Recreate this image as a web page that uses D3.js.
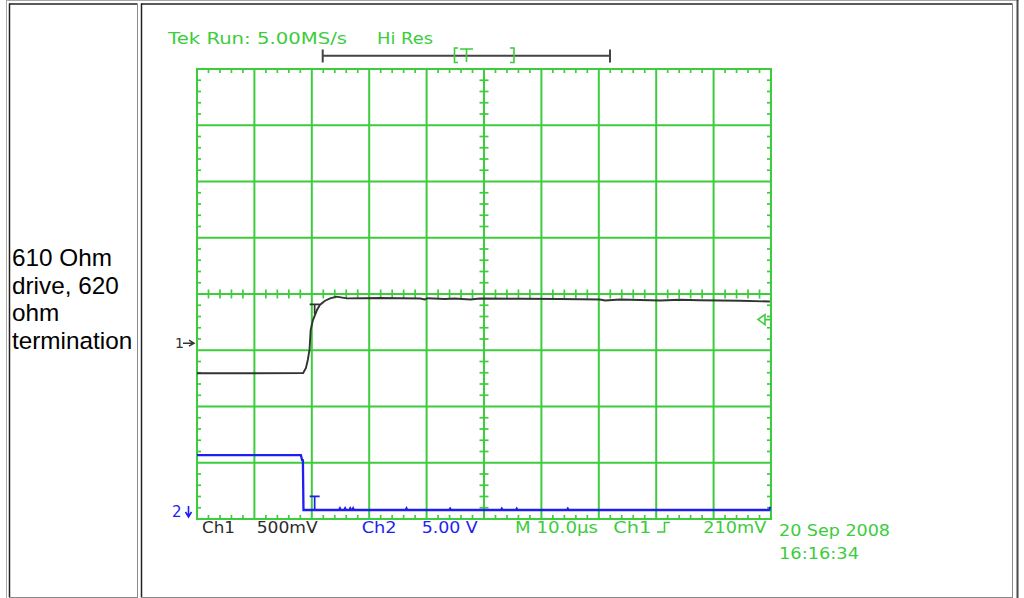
<!DOCTYPE html>
<html><head><meta charset="utf-8">
<script src="https://cdn.jsdelivr.net/npm/d3@7"></script>
<style>
html,body{margin:0;padding:0;background:#fff;}
svg{display:block;}
</style></head><body>
<svg id="c" width="1024" height="598"></svg>
<script>
// ---- Channel 1 trace (time in µs, volts) ----
const ch1Time  = [0, 10, 18.5, 18.98, 19.3, 19.6, 19.8, 20.2, 20.9, 21.4, 22.3, 23.2, 24.3, 26.1,
                  31.9, 38.9, 39.7, 40.2, 43.2, 44.9, 47.6, 49.3, 56.3, 63.2, 70.2, 71.1, 73.7,
                  77.2, 80.7, 84.1, 87.6, 94.6, 99.8];
const ch1Volts = [-0.267, -0.267, -0.265, -0.22, -0.149, -0.06, 0.117, 0.206, 0.295, 0.34, 0.378, 0.398, 0.414, 0.399,
                  0.402, 0.3975, 0.389, 0.40, 0.393, 0.3975, 0.389, 0.3975, 0.395, 0.393, 0.389, 0.38, 0.389,
                  0.384, 0.38, 0.386, 0.3815, 0.377, 0.371];

// ---- Channel 2 trace (time in µs, volts) ----
const ch2Time  = [0, 18.1, 18.3, 18.45, 18.55, 24.75, 24.9, 25.05, 25.65, 25.8, 25.95, 26.55, 26.7, 26.85,
                  27.05, 27.2, 27.35, 36.35, 36.5, 36.65, 43.95, 44.1, 44.25, 52.95, 53.1, 53.25,
                  55.55, 55.7, 55.85, 64.45, 64.6, 64.75, 99.7, 99.85];
const ch2Volts = [5.06, 5.06, 4.62, 4.6, 0.175, 0.175, 0.32, 0.175, 0.175, 0.32, 0.175, 0.175, 0.32, 0.175,
                  0.175, 0.32, 0.175, 0.175, 0.32, 0.175, 0.175, 0.3, 0.175, 0.175, 0.3, 0.175,
                  0.175, 0.3, 0.175, 0.175, 0.3, 0.175, 0.175, 0.45];

// ---- Scope settings ----
const timePerDiv = 10;          // µs
const ch1VoltsPerDiv = 0.5;
const ch2VoltsPerDiv = 5;
const ch1Position = -0.875;     // divisions from centre
const ch2Position = -3.875;
const triggerLevel = 0.21;      // volts on Ch1
const triggerTime = 20.5;       // µs

// ---- Text ----
const caption = ["610 Ohm", "drive, 620", "ohm", "termination"];
const headerText = "Tek Run: 5.00MS/s";
const acqText = "Hi Res";
const ch1Readout = ["Ch1", "500mV"];
const ch2Readout = ["Ch2", "5.00 V"];
const timeReadout = "M 10.0\u00b5s";
const trigReadout = ["Ch1", "210mV"];
const stamp = ["20 Sep 2008", "16:16:34"];

const GREEN = "#3ccc3c", BLUE = "#1e1ef0", TRACE = "#333333";

const svg = d3.select("#c");

// ---- Page table frame ----
const frame = svg.append("g").attr("fill", "none");
const L = (x1, y1, x2, y2, c, w) => frame.append("line")
  .attr("x1", x1).attr("y1", y1).attr("x2", x2).attr("y2", y2)
  .attr("stroke", c).attr("stroke-width", w);
L(6, 0.5, 1019, 0.5, "#a8a8a8", 1);
L(6.5, 0, 6.5, 598, "#a8a8a8", 1);
L(1017.5, 0, 1017.5, 598, "#4a4a4a", 2);
[[9.5, 137.5], [141.5, 1012.5]].forEach(([a, b]) => {
  L(a - 0.5, 4, b, 4, "#222", 1.5);
  L(a, 3.5, a, 597.5, "#222", 1.5);
  L(b, 4, b, 597.5, "#8a8a8a", 1);
  L(a, 597.5, b + 0.5, 597.5, "#8a8a8a", 1);
});

// caption cell
svg.append("g").selectAll("text").data(caption).join("text")
  .attr("x", 12).attr("y", (d, i) => 266 + i * 27.7)
  .attr("font-family", "'Liberation Sans', Arial, sans-serif")
  .attr("font-size", 24.3).attr("fill", "#000").text(d => d);

// ---- Scales ----
const x = d3.scaleLinear().domain([0, 10 * timePerDiv]).range([197, 771]);
const yDiv = d3.scaleLinear().domain([-4, 4]).range([519, 69]);
const y1 = v => yDiv(ch1Position + v / ch1VoltsPerDiv);
const y2 = v => yDiv(ch2Position + v / ch2VoltsPerDiv);

// ---- Graticule ----
const grid = svg.append("g").attr("stroke", GREEN).attr("fill", "none");
d3.range(0, 10 * timePerDiv + 0.01, timePerDiv).forEach(t =>
  grid.append("line").attr("x1", x(t)).attr("x2", x(t))
    .attr("y1", yDiv(4) - 1).attr("y2", yDiv(-4) + 1).attr("stroke-width", 2));
d3.range(-4, 4.01, 1).forEach(d =>
  grid.append("line").attr("x1", x(0) - 1).attr("x2", x(100) + 1)
    .attr("y1", yDiv(d)).attr("y2", yDiv(d)).attr("stroke-width", 2));

const minorT = d3.range(0, 100.01, timePerDiv / 5).filter(t => Math.abs(t % timePerDiv) > 0.01 && Math.abs(t % timePerDiv - timePerDiv) > 0.01);
const minorD = d3.range(-4, 4.01, 0.2).filter(d => Math.abs(d - Math.round(d)) > 0.01);
const tick = (x1, y1_, x2, y2_) => grid.append("line")
  .attr("x1", x1).attr("y1", y1_).attr("x2", x2).attr("y2", y2_).attr("stroke-width", 1.7);
minorT.forEach(t => {
  tick(x(t), yDiv(4), x(t), yDiv(4) + 4);
  tick(x(t), yDiv(-4), x(t), yDiv(-4) - 4);
  tick(x(t), yDiv(0) - 4.5, x(t), yDiv(0) + 4.5);
});
minorD.forEach(d => {
  tick(x(0), yDiv(d), x(0) + 4, yDiv(d));
  tick(x(100) - 4, yDiv(d), x(100), yDiv(d));
  tick(x(50) - 4.5, yDiv(d), x(50) + 4.5, yDiv(d));
});

// ---- Traces ----
const line1 = d3.line().x((d, i) => x(ch1Time[i])).y((d, i) => y1(ch1Volts[i]));
const line2 = d3.line().x((d, i) => x(ch2Time[i])).y((d, i) => y2(ch2Volts[i]));
svg.append("path").attr("d", line2(ch2Volts)).attr("fill", "none")
  .attr("stroke", BLUE).attr("stroke-width", 2.3).attr("stroke-linejoin", "miter");
svg.append("path").attr("d", line1(ch1Volts)).attr("fill", "none")
  .attr("stroke", TRACE).attr("stroke-width", 1.9);

// trigger point markers on each trace
const tMark = (cx, top, bottom, col) => svg.append("path")
  .attr("d", `M${cx - 5},${top}H${cx + 5}M${cx},${top}V${bottom}`)
  .attr("stroke", col).attr("stroke-width", 1.7).attr("fill", "none");
tMark(x(triggerTime), y1(0.346), y1(0.26), TRACE);
tMark(x(triggerTime), y2(1.38), y2(0.175), BLUE);

// trigger level marker on right edge
const ty = y1(triggerLevel);
svg.append("path")
  .attr("d", `M${x(100) - 6},${ty - 5}L${x(100) - 13},${ty}L${x(100) - 6},${ty + 5}ZM${x(100) - 6},${ty}H${x(100)}`)
  .attr("stroke", GREEN).attr("stroke-width", 1.6).attr("fill", "none");

// channel ground markers
const mono = "'DejaVu Sans', Verdana, sans-serif";
svg.append("text").attr("x", 175).attr("y", y1(0) + 5).attr("font-family", mono)
  .attr("font-size", 14).attr("fill", TRACE).text("1");
svg.append("path").attr("d", `M183,${y1(0)}H193M189,${y1(0) - 3}L194,${y1(0)}L189,${y1(0) + 3}`)
  .attr("stroke", TRACE).attr("stroke-width", 1.5).attr("fill", "none");
svg.append("text").attr("x", 172).attr("y", y2(0) + 5).attr("font-family", mono)
  .attr("font-size", 15).attr("fill", BLUE).text("2");
svg.append("path").attr("d", `M188.5,${y2(0) - 6}V${y2(0) + 4}M185.5,${y2(0)}L188.5,${y2(0) + 5}L191.5,${y2(0)}`)
  .attr("stroke", BLUE).attr("stroke-width", 1.6).attr("fill", "none");

// ---- Record bar at top ----
svg.append("path").attr("d", "M322.7,55.7H610M322.7,49.5V62.5M610,49.5V62.5")
  .attr("stroke", "#444").attr("stroke-width", 2).attr("fill", "none");
svg.append("path").attr("d", "M458,48H454.5V62.5H458M510,48H514V62.5H510")
  .attr("stroke", GREEN).attr("stroke-width", 1.6).attr("fill", "none");
svg.append("path").attr("d", "M460,49H473M466.5,49V62")
  .attr("stroke", GREEN).attr("stroke-width", 1.6).attr("fill", "none");

// ---- Readouts ----
const txt = (s, x0, y0, len, col) => svg.append("text")
  .attr("x", x0).attr("y", y0).attr("font-family", mono).attr("font-size", 16)
  .attr("fill", col).attr("textLength", len).attr("lengthAdjust", "spacingAndGlyphs").text(s);
txt(headerText, 168, 44, 179, GREEN);
txt(acqText, 377, 44, 56, GREEN);
txt(ch1Readout[0], 202, 532.7, 33, "#2a2a2a");
txt(ch1Readout[1], 256.7, 532.7, 61, "#2a2a2a");
txt(ch2Readout[0], 361.7, 532.7, 35, BLUE);
txt(ch2Readout[1], 421.7, 532.7, 56, BLUE);
txt(timeReadout, 515, 532.7, 83, GREEN);
txt(trigReadout[0], 613.3, 532.7, 38, GREEN);
svg.append("path").attr("d", "M657,532H664.5V522.5H670")
  .attr("stroke", GREEN).attr("stroke-width", 1.6).attr("fill", "none");
txt(trigReadout[1], 703.3, 532.7, 63, GREEN);
txt(stamp[0], 779, 535.7, 111, GREEN);
txt(stamp[1], 779, 559, 80, GREEN);
</script>
</body></html>
